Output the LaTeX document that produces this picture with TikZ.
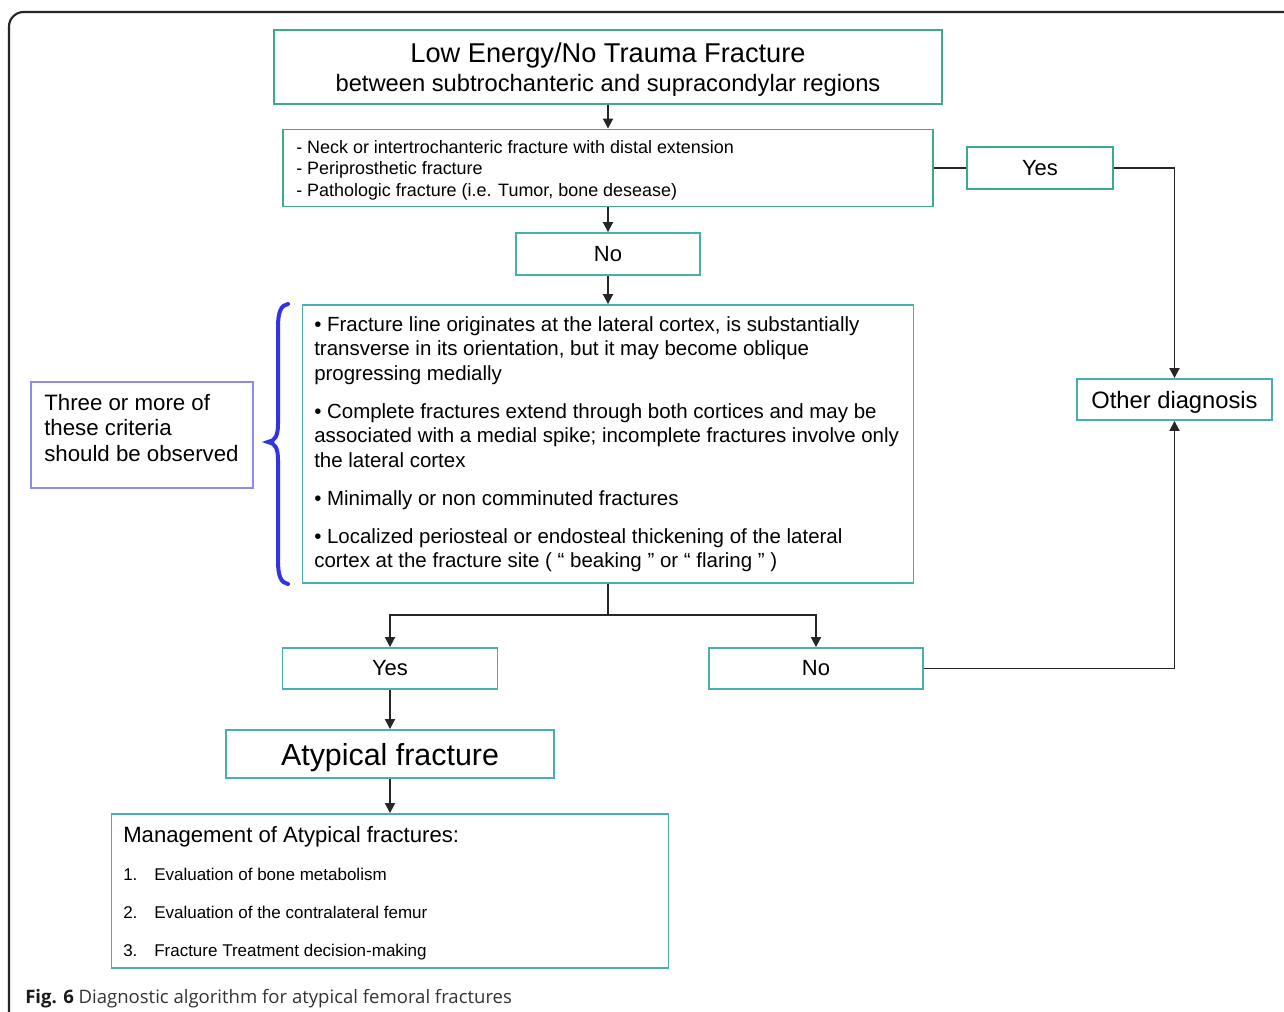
\documentclass[tikz,border=0pt]{standalone}
\usepackage{fontspec}
\setmainfont{Liberation Sans}
\newfontfamily\capf{Open Sans}
\usetikzlibrary{arrows.meta}
\definecolor{tealA}{HTML}{3DAA8E}
\definecolor{tealB}{HTML}{45B0AE}
\definecolor{lav}{HTML}{8A8AF0}
\definecolor{bracec}{HTML}{3333E6}
\definecolor{linec}{HTML}{262626}
\newcommand\fsz[1]{\fontsize{#1pt}{#1pt}\selectfont}
\tikzset{
  box/.style={draw=tealB, line width=1.4pt, inner sep=0pt, fill=white},
  boxg/.style={box, draw=tealA},
  conn/.style={draw=linec, line width=1.4pt},
  arr/.style={conn, -{Triangle[length=7.5pt,width=7.5pt]}},
  tx/.style={inner sep=0pt, anchor=base west},
  txc/.style={inner sep=0pt, anchor=base}
}
\begin{document}
\begin{tikzpicture}[x=0.75pt,y=-0.75pt]
\useasboundingbox (0,0) rectangle (1284,1012);
% frame
\draw[linec, line width=1.6pt, rounded corners=11pt] (9,1012) -- (9,12) -- (1284,12);

% boxes
\node[boxg, minimum width=501pt, minimum height=55.5pt] (top) at (608,67) {};
\node[txc, font=\fsz{20.4}] (t1) at (608,62.5) {Low Energy/No Trauma Fracture};
\node[txc, font=\fsz{17.8}] (t2) at (608,91.5) {between subtrochanteric and supracondylar regions};

\node[boxg, minimum width=487.5pt, minimum height=57.75pt] (excl) at (608,168) {};
\node[tx, font=\fsz{13.45}] (e1) at (296,153.5) {- Neck or intertrochanteric fracture with distal extension};
\node[tx, font=\fsz{13.45}] (e2) at (296,174.5) {- Periprosthetic fracture};
\node[tx, font=\fsz{13.45}] (e3) at (296,196.5) {- Pathologic fracture (i.e. Tumor, bone desease)};

\node[boxg, minimum width=109.5pt, minimum height=31.5pt, font=\fsz{16.5}] (yes1) at (1040,168) {Yes};
\node[box, minimum width=138pt, minimum height=31.5pt, font=\fsz{16.5}] (no1) at (608,254) {No};

\node[box, minimum width=458.25pt, minimum height=208.5pt] (crit) at (608,444) {};
\node[tx, font=\fsz{15.35}] (c1) at (314,331) {• Fracture line originates at the lateral cortex, is substantially};
\node[tx, font=\fsz{15.35}] (c2) at (314,355.5) {transverse in its orientation, but it may become oblique};
\node[tx, font=\fsz{15.35}] (c3) at (314,380) {progressing medially};
\node[tx, font=\fsz{15.35}] (c4) at (314,418) {• Complete fractures extend through both cortices and may be};
\node[tx, font=\fsz{15.35}] (c5) at (314,442.5) {associated with a medial spike; incomplete fractures involve only};
\node[tx, font=\fsz{15.35}] (c6) at (314,467) {the lateral cortex};
\node[tx, font=\fsz{15.35}] (c7) at (314,505) {• Minimally or non comminuted fractures};
\node[tx, font=\fsz{15.35}] (c8) at (314,543) {• Localized periosteal or endosteal thickening of the lateral};
\node[tx, font=\fsz{15.35}] (c9) at (314,567.5) {cortex at the fracture site ( “ beaking ” or “ flaring ” )};

% brace
\draw[bracec, line width=3pt, line cap=round]
  (288,304) .. controls (281,305) and (278,312) .. (278,327) -- (278,424)
  .. controls (278,436) and (275,441) .. (268,442)
  .. controls (275,443) and (278,448) .. (278,460) -- (278,561)
  .. controls (278,576) and (281,583) .. (288,584);

\node[box, draw=lav, minimum width=166.5pt, minimum height=79.5pt] (three) at (142,435) {};
\node[tx, font=\fsz{16.7}] (l1) at (44,410) {Three or more of};
\node[tx, font=\fsz{16.7}] (l2) at (44,435.5) {these criteria};
\node[tx, font=\fsz{16.7}] (l3) at (44,461) {should be observed};

\node[box, minimum width=146.25pt, minimum height=30.75pt, font=\fsz{17.8}, text depth=0pt] (other) at (1174.5,399.5) {Other diagnosis};

\node[box, minimum width=161.25pt, minimum height=30.75pt, font=\fsz{16.5}] (yes2) at (390,668.5) {Yes};
\node[box, minimum width=160.5pt, minimum height=30.75pt, font=\fsz{16.5}] (no2) at (816,668.5) {No};

\node[box, minimum width=246pt, minimum height=36pt, font=\fsz{22.8}, text depth=0pt] (atyp) at (390,754) {Atypical fracture};

\node[box, minimum width=417.75pt, minimum height=115.5pt] (mgmt) at (390,891) {};
\node[tx, font=\fsz{16.6}] (m0) at (123,842) {Management of Atypical fractures:};
\node[tx, font=\fsz{12.75}] (m1) at (123,880) {\makebox[23.25pt][l]{1.}Evaluation of bone metabolism};
\node[tx, font=\fsz{12.75}] (m2) at (123,918) {\makebox[23.25pt][l]{2.}Evaluation of the contralateral femur};
\node[tx, font=\fsz{12.75}] (m3) at (123,956) {\makebox[23.25pt][l]{3.}Fracture Treatment decision-making};

% connectors
\draw[arr] (top.south) -- (excl.north);
\draw[arr] (excl.south) -- (no1.north);
\draw[arr] (no1.south) -- (crit.north);
\draw[conn] (excl.east) -- (yes1.west);
\draw[arr] (yes1.east) -| (other.north);
\coordinate (split) at (608,615);
\draw[conn] (crit.south) -- (split);
\draw[arr] (split) -| (yes2.north);
\draw[arr] (split) -| (no2.north);
\draw[arr] (no2.east) -| (other.south);
\draw[arr] (yes2.south) -- (atyp.north);
\draw[arr] (atyp.south) -- (mgmt.north);

% caption
\node[tx, font=\capf\fsz{13.9}, text=black!80] (cap) at (25,1003) {{\color{black!90}\textbf{Fig. 6}} Diagnostic algorithm for atypical femoral fractures};
\end{tikzpicture}
\end{document}
